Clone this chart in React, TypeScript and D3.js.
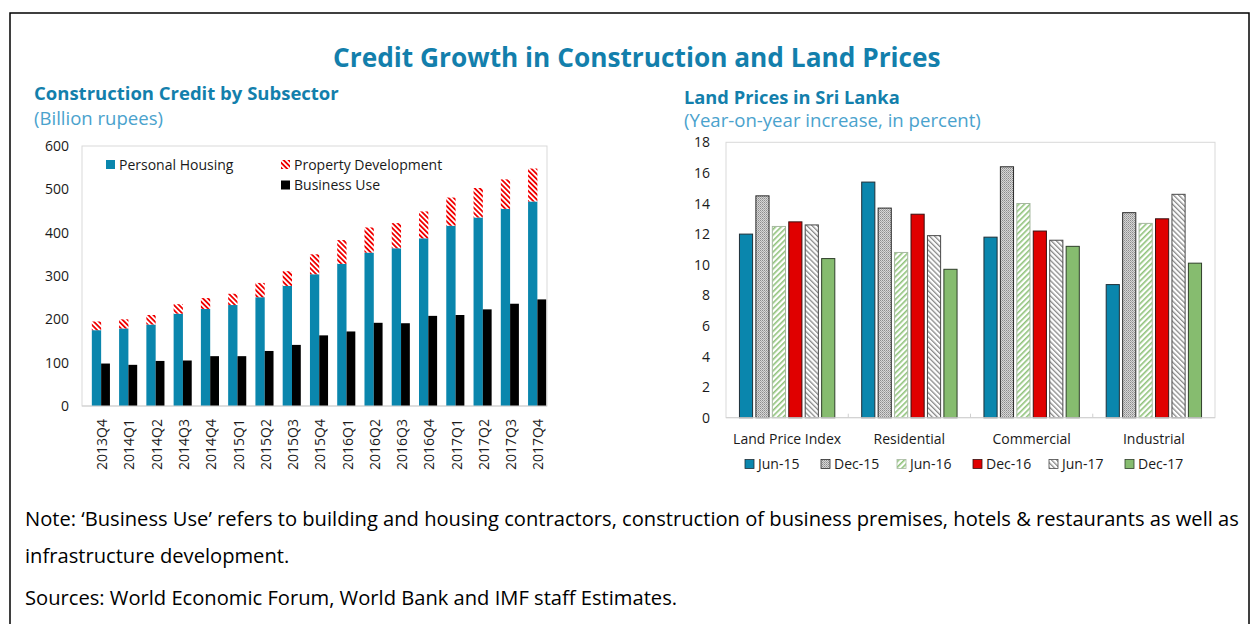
import React, { useEffect, useRef } from 'react';
import * as d3 from 'd3';

// ---------- Data ----------
const quarters = ['2013Q4','2014Q1','2014Q2','2014Q3','2014Q4','2015Q1','2015Q2','2015Q3','2015Q4','2016Q1','2016Q2','2016Q3','2016Q4','2017Q1','2017Q2','2017Q3','2017Q4'];
const personalHousing = [175,179,188,213,224,233,251,277,304,328,354,364,387,416,435,455,472];
const propertyDevelopment = [20,21,22,22,25,26,33,34,46,55,58,58,62,65,68,68,76];
const businessUse = [98,95,104,105,115,115,127,141,163,172,192,191,208,210,223,236,246];
const leftTicks = [0,100,200,300,400,500,600];

const landCategories = ['Land Price Index','Residential','Commercial','Industrial'];
const landPeriods = ['Jun-15','Dec-15','Jun-16','Dec-16','Jun-17','Dec-17'];
const jun15 = [12.0,15.4,11.8,8.7];
const dec15 = [14.5,13.7,16.4,13.4];
const jun16 = [12.5,10.8,14.0,12.7];
const dec16 = [12.8,13.3,12.2,13.0];
const jun17 = [12.6,11.9,11.6,14.6];
const dec17 = [10.4,9.7,11.2,10.1];
const rightTicks = [0,2,4,6,8,10,12,14,16,18];

const mainTitle = 'Credit Growth in Construction and Land Prices';
const leftTitle = 'Construction Credit by Subsector';
const leftSub = '(Billion rupees)';
const rightTitle = 'Land Prices in Sri Lanka';
const rightSub = '(Year-on-year increase, in percent)';
const note1 = 'Note: \u2018Business Use\u2019 refers to building and housing contractors, construction of business premises, hotels & restaurants as well as';
const note2 = 'infrastructure development.';
const note3 = 'Sources: World Economic Forum, World Bank and IMF staff Estimates.';

const TEAL = '#0a86ad';
const TITLE = '#137fac';
const SUB = '#4aa2cd';
const FONT = '"Open Sans", "Noto Sans", sans-serif';

export default function App() {
  const ref = useRef<SVGSVGElement | null>(null);

  useEffect(() => {
    document.body.style.margin = '0';
    const svg = d3.select(ref.current);
    svg.selectAll('*').remove();

    // ---- patterns ----
    const defs = svg.append('defs');
    const stripe = (id: string, color: string, angle: number, size: number, sw: number) => {
      const p = defs.append('pattern').attr('id', id).attr('patternUnits', 'userSpaceOnUse')
        .attr('width', size).attr('height', size).attr('patternTransform', `rotate(${angle})`);
      p.append('rect').attr('width', size).attr('height', size).attr('fill', '#fff');
      p.append('rect').attr('width', sw).attr('height', size).attr('fill', color);
    };
    stripe('pd', '#f00000', -45, 3.6, 1.8);
    stripe('j16', '#8fc27a', 45, 4, 1.6);
    stripe('j17', '#8a8a8a', -45, 3.6, 1.3);
    const dots = defs.append('pattern').attr('id', 'd15').attr('patternUnits', 'userSpaceOnUse')
      .attr('width', 2).attr('height', 2);
    dots.append('rect').attr('width', 2).attr('height', 2).attr('fill', '#d6d6d6');
    dots.append('rect').attr('width', 1).attr('height', 1).attr('fill', '#8c8c8c');
    dots.append('rect').attr('x', 1).attr('y', 1).attr('width', 1).attr('height', 1).attr('fill', '#a8a8a8');

    // outer frame
    svg.append('rect').attr('x', 10).attr('y', 13).attr('width', 1239).attr('height', 640)
      .attr('fill', 'none').attr('stroke', '#000').attr('stroke-width', 1.5);

    const fit = (sel: any, target: number) => {
      sel.each(function (this: SVGTextElement) {
        const w = this.getComputedTextLength();
        const fs = parseFloat(this.getAttribute('font-size') || '14');
        if (w > 0) this.setAttribute('font-size', String(fs * target / w));
      });
    };
    const text = (x: number, y: number, s: string, size: number, opts: any = {}) =>
      svg.append('text').attr('x', x).attr('y', y).text(s).attr('font-family', FONT)
        .attr('font-size', size).attr('fill', opts.fill || '#000')
        .attr('font-weight', opts.weight || 'normal').attr('text-anchor', opts.anchor || 'start');

    // titles
    fit(text(333, 67, mainTitle, 25, { fill: TITLE, weight: 'bold' }), 608);
    fit(text(34, 100, leftTitle, 18, { fill: TITLE, weight: 'bold' }), 305);
    fit(text(34, 125, leftSub, 18, { fill: SUB }), 129);
    fit(text(684, 104, rightTitle, 18, { fill: TITLE, weight: 'bold' }), 216);
    fit(text(684, 127, rightSub, 17, { fill: SUB }), 297);

    // notes
    const n1 = text(25, 526, note1, 17);
    fit(n1, 1215);
    const nfs = n1.attr('font-size');
    text(25, 563, note2, 17).attr('font-size', nfs);
    text(25, 605, note3, 17).attr('font-size', nfs);

    // ---------- Left chart ----------
    const L = { x0: 82, x1: 547, top: 146, bottom: 406 };
    const yL = d3.scaleLinear().domain([0, 600]).range([L.bottom, L.top]);
    const xL = d3.scaleBand<string>().domain(quarters).range([87.5, 551]);
    const gL = svg.append('g');
    gL.append('rect').attr('x', L.x0).attr('y', L.top).attr('width', L.x1 - L.x0).attr('height', L.bottom - L.top)
      .attr('fill', 'none').attr('stroke', '#d9d9d9').attr('stroke-width', 1);
    const bw = 9.3;
    quarters.forEach((q, i) => {
      const c = (xL(q) as number) + xL.bandwidth() / 2;
      gL.append('rect').attr('x', c - bw).attr('width', bw)
        .attr('y', yL(personalHousing[i])).attr('height', yL(0) - yL(personalHousing[i])).attr('fill', TEAL);
      gL.append('rect').attr('x', c - bw).attr('width', bw)
        .attr('y', yL(personalHousing[i] + propertyDevelopment[i]))
        .attr('height', yL(personalHousing[i]) - yL(personalHousing[i] + propertyDevelopment[i]))
        .attr('fill', 'url(#pd)');
      gL.append('rect').attr('x', c).attr('width', bw - 0.5)
        .attr('y', yL(businessUse[i])).attr('height', yL(0) - yL(businessUse[i])).attr('fill', '#000');
      gL.append('text').attr('transform', `translate(${c + 1},419) rotate(-90)`)
        .attr('text-anchor', 'end').attr('dy', '0.36em').attr('font-family', FONT).attr('font-size', 14)
        .attr('fill', '#1a1a1a').text(q);
    });
    gL.append('line').attr('x1', L.x0).attr('x2', L.x1).attr('y1', L.bottom).attr('y2', L.bottom)
      .attr('stroke', '#d0d0d0');
    leftTicks.forEach(t => {
      gL.append('text').attr('x', 69).attr('y', yL(t)).attr('dy', '0.36em').attr('text-anchor', 'end')
        .attr('font-family', FONT).attr('font-size', 14).attr('fill', '#1a1a1a').text(String(t));
    });
    // legend
    const lgL = [
      { label: 'Personal Housing', fill: TEAL, x: 106, y: 160 },
      { label: 'Property Development', fill: 'url(#pd)', x: 281, y: 160 },
      { label: 'Business Use', fill: '#000', x: 281, y: 180.5 },
    ];
    lgL.forEach(d => {
      gL.append('rect').attr('x', d.x).attr('y', d.y).attr('width', 9).attr('height', 9).attr('fill', d.fill);
      gL.append('text').attr('x', d.x + 13).attr('y', d.y + 4.5).attr('dy', '0.36em')
        .attr('font-family', FONT).attr('font-size', 14).attr('fill', '#1a1a1a').text(d.label);
    });

    // ---------- Right chart ----------
    const R = { x0: 726, x1: 1215, top: 142.3, bottom: 417.7 };
    const yR = d3.scaleLinear().domain([0, 18]).range([R.bottom, R.top]);
    const x0 = d3.scaleBand<string>().domain(landCategories).range([R.x0, R.x1]).paddingInner(0.22).paddingOuter(0.11);
    const x1 = d3.scaleBand<string>().domain(landPeriods).range([0, x0.bandwidth()]).paddingInner(0.2);
    const series = [jun15, dec15, jun16, dec16, jun17, dec17];
    const fills = [TEAL, 'url(#d15)', 'url(#j16)', '#e00000', 'url(#j17)', '#86bc6f'];
    const strokes = ['#1f2f38', '#2a2a2a', '#a6b8a0', '#3a1010', '#4a4a4a', '#2f3f2a'];
    const gR = svg.append('g');
    gR.append('rect').attr('x', R.x0).attr('y', R.top).attr('width', R.x1 - R.x0).attr('height', R.bottom - R.top)
      .attr('fill', 'none').attr('stroke', '#d9d9d9').attr('stroke-width', 1);
    landCategories.forEach((cat, ci) => {
      landPeriods.forEach((p, si) => {
        const v = series[si][ci];
        gR.append('rect').attr('x', (x0(cat) as number) + (x1(p) as number)).attr('width', x1.bandwidth())
          .attr('y', yR(v)).attr('height', yR(0) - yR(v))
          .attr('fill', fills[si]).attr('stroke', strokes[si]).attr('stroke-width', 1);
      });
      gR.append('text').attr('x', (x0(cat) as number) + x0.bandwidth() / 2).attr('y', 444)
        .attr('text-anchor', 'middle').attr('font-family', FONT).attr('font-size', 14).attr('fill', '#1a1a1a').text(cat);
    });
    gR.append('line').attr('x1', R.x0).attr('x2', R.x1).attr('y1', R.bottom).attr('y2', R.bottom).attr('stroke', '#d0d0d0');
    landCategories.slice(1).forEach(cat => {
      const bx = (x0(cat) as number) - x0.step() * 0.11;
      gR.append('line').attr('x1', bx).attr('x2', bx).attr('y1', R.bottom - 4).attr('y2', R.bottom).attr('stroke', '#d0d0d0');
    });
    rightTicks.forEach(t => {
      gR.append('text').attr('x', 710).attr('y', yR(t)).attr('dy', '0.36em').attr('text-anchor', 'end')
        .attr('font-family', FONT).attr('font-size', 14).attr('fill', '#1a1a1a').text(String(t));
    });
    landPeriods.forEach((p, si) => {
      const lx = 745 + si * 76;
      gR.append('rect').attr('x', lx).attr('y', 459.5).attr('width', 9).attr('height', 9)
        .attr('fill', fills[si]).attr('stroke', strokes[si]).attr('stroke-width', 0.8);
      gR.append('text').attr('x', lx + 13).attr('y', 464).attr('dy', '0.36em')
        .attr('font-family', FONT).attr('font-size', 14).attr('fill', '#1a1a1a').text(p);
    });
  }, []);

  return (
    <div style={{ position: 'absolute', left: 0, top: 0 }}>
      <svg ref={ref} width={1252} height={624} style={{ display: 'block', background: '#fff' }} />
    </div>
  );
}
